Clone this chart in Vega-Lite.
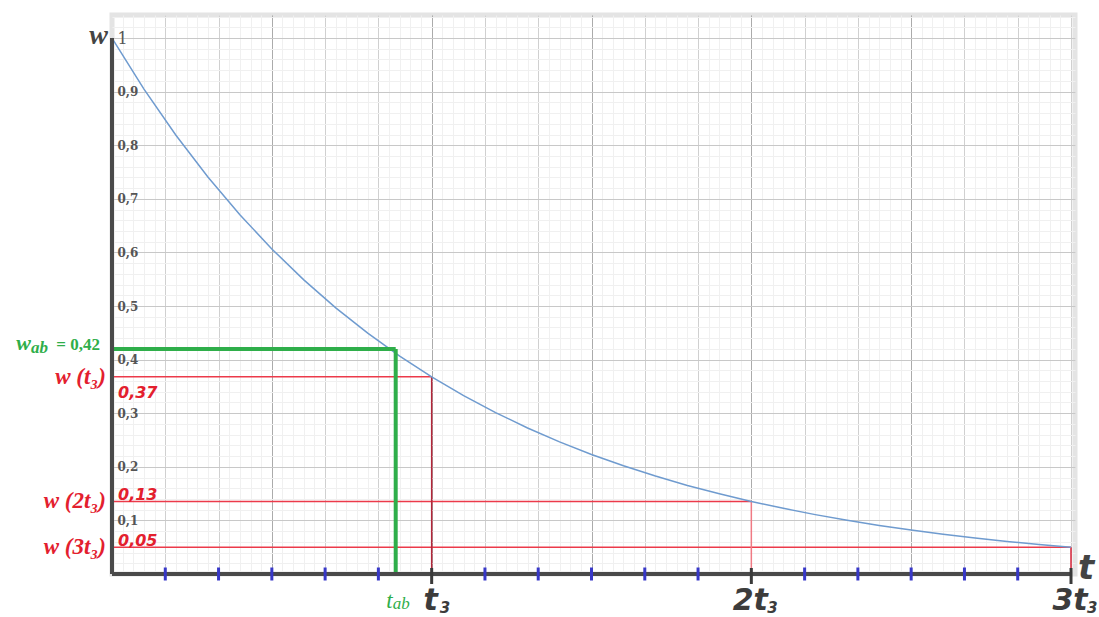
{
  "$schema": "https://vega.github.io/schema/vega-lite/v6.json",
  "width": 963,
  "height": 559,
  "autosize": "none",
  "padding": {"left": 112, "top": 15, "right": 24, "bottom": 43},
  "background": "white",
  "config": {
    "view": {"stroke": "#e4e4e4", "strokeWidth": 5},
    "axis": {"domain": false, "ticks": false, "labels": false}
  },
  "datasets": {
    "curve": [
      {"t": 0, "w": 1}, {"t": 0.1, "w": 0.9048}, {"t": 0.2, "w": 0.8187}, {"t": 0.3, "w": 0.7408},
      {"t": 0.4, "w": 0.6703}, {"t": 0.5, "w": 0.6065}, {"t": 0.6, "w": 0.5488}, {"t": 0.7, "w": 0.4966},
      {"t": 0.8, "w": 0.4493}, {"t": 0.9, "w": 0.4066}, {"t": 1.0, "w": 0.3679}, {"t": 1.1, "w": 0.3329},
      {"t": 1.2, "w": 0.3012}, {"t": 1.3, "w": 0.2725}, {"t": 1.4, "w": 0.2466}, {"t": 1.5, "w": 0.2231},
      {"t": 1.6, "w": 0.2019}, {"t": 1.7, "w": 0.1827}, {"t": 1.8, "w": 0.1653}, {"t": 1.9, "w": 0.1496},
      {"t": 2.0, "w": 0.1353}, {"t": 2.1, "w": 0.1225}, {"t": 2.2, "w": 0.1108}, {"t": 2.3, "w": 0.1003},
      {"t": 2.4, "w": 0.0907}, {"t": 2.5, "w": 0.0821}, {"t": 2.6, "w": 0.0743}, {"t": 2.7, "w": 0.0672},
      {"t": 2.8, "w": 0.0608}, {"t": 2.9, "w": 0.055}, {"t": 3.0, "w": 0.0498}
    ],
    "marks": [
      {"t": 1, "w": 0.3679, "k": "a", "lab": "w (t₃)", "num": "0,37", "tl": "t"},
      {"t": 2, "w": 0.1353, "k": "b", "lab": "w (2t₃)", "num": "0,13", "tl": "2t"},
      {"t": 3, "w": 0.0498, "k": "c", "lab": "w (3t₃)", "num": "0,05", "tl": "3t"}
    ],
    "ab": [{"t": 0.8875, "w": 0.42}],
    "ticks": [
      {"t": 0.1667}, {"t": 0.3333}, {"t": 0.5}, {"t": 0.6667}, {"t": 0.8333},
      {"t": 1.1667}, {"t": 1.3333}, {"t": 1.5}, {"t": 1.6667}, {"t": 1.8333},
      {"t": 2.1667}, {"t": 2.3333}, {"t": 2.5}, {"t": 2.6667}, {"t": 2.8333}
    ],
    "one": [{"n": 1}]
  },
  "resolve": {"axis": {"x": "independent", "y": "independent"}},
  "layer": [
    {
      "data": {"name": "marks"},
      "mark": {"type": "rule", "color": "#ec3a4a", "strokeWidth": 1.5},
      "encoding": {
        "x": {"field": "t", "type": "quantitative", "scale": {"domain": [0, 3.0125], "nice": false, "zero": false},
          "axis": {"orient": "bottom", "grid": true, "gridColor": "#f0f0f0", "gridWidth": 1, "title": null,
            "values": [0.0333,0.0667,0.1,0.1333,0.1667,0.2,0.2333,0.2667,0.3,0.3333,0.3667,0.4,0.4333,0.4667,0.5,0.5333,0.5667,0.6,0.6333,0.6667,0.7,0.7333,0.7667,0.8,0.8333,0.8667,0.9,0.9333,0.9667,1,
              1.0333,1.0667,1.1,1.1333,1.1667,1.2,1.2333,1.2667,1.3,1.3333,1.3667,1.4,1.4333,1.4667,1.5,1.5333,1.5667,1.6,1.6333,1.6667,1.7,1.7333,1.7667,1.8,1.8333,1.8667,1.9,1.9333,1.9667,2,
              2.0333,2.0667,2.1,2.1333,2.1667,2.2,2.2333,2.2667,2.3,2.3333,2.3667,2.4,2.4333,2.4667,2.5,2.5333,2.5667,2.6,2.6333,2.6667,2.7,2.7333,2.7667,2.8,2.8333,2.8667,2.9,2.9333,2.9667,3]}},
        "x2": {"datum": 0},
        "y": {"field": "w", "type": "quantitative", "scale": {"domain": [0, 1.043], "nice": false, "zero": false},
          "axis": {"orient": "left", "grid": true, "gridColor": "#f0f0f0", "gridWidth": 1, "title": null,
            "values": [0.02,0.04,0.06,0.08,0.1,0.12,0.14,0.16,0.18,0.2,0.22,0.24,0.26,0.28,0.3,0.32,0.34,0.36,0.38,0.4,0.42,0.44,0.46,0.48,0.5,0.52,0.54,0.56,0.58,0.6,0.62,0.64,0.66,0.68,0.7,0.72,0.74,0.76,0.78,0.8,0.82,0.84,0.86,0.88,0.9,0.92,0.94,0.96,0.98,1,1.02,1.04]}}
      }
    },
    {
      "data": {"name": "marks"},
      "mark": {"type": "rule", "strokeWidth": 1.5},
      "encoding": {
        "x": {"field": "t", "type": "quantitative",
          "axis": {"orient": "bottom", "grid": true, "gridColor": "#d0d0d0", "gridWidth": 1, "title": null,
            "values": [0.1667,0.3333,0.5,0.6667,0.8333,1,1.1667,1.3333,1.5,1.6667,1.8333,2,2.1667,2.3333,2.5,2.6667,2.8333,3]}},
        "y": {"field": "w", "type": "quantitative", "axis": null},
        "y2": {"datum": 0},
        "color": {"field": "k", "type": "nominal", "legend": null,
          "scale": {"domain": ["a", "b", "c"], "range": ["#b3263a", "#f07a84", "#d8243a"]}}
      }
    },
    {
      "data": {"name": "curve"},
      "mark": {"type": "line", "color": "#6f9bcf", "strokeWidth": 1.5},
      "encoding": {
        "x": {"field": "t", "type": "quantitative",
          "axis": {"orient": "bottom", "grid": true, "gridColor": "#ababab", "gridWidth": 1, "title": null, "values": [0.5, 1, 1.5, 2, 2.5]}},
        "y": {"field": "w", "type": "quantitative",
          "axis": {"orient": "left", "grid": true, "gridColor": "#c8c8c8", "gridWidth": 1, "title": null,
            "values": [0.1,0.2,0.3,0.4,0.5,0.6,0.7,0.8,0.9,1],
            "labels": true, "format": ".1~f", "labelExpr": "replace(datum.label, '.', ',')",
            "labelAlign": "left", "labelBaseline": "middle", "labelPadding": -5,
            "labelOverlap": false, "labelFlush": false, "labelBound": false,
            "labelFont": "DejaVu Serif",
            "labelFontSize": {"expr": "datum.value == 1 ? 16 : 12"},
            "labelFontWeight": {"expr": "datum.value == 1 ? 'normal' : 'bold'"},
            "labelColor": "#555555"}}
      }
    },
    {
      "data": {"name": "ab"},
      "mark": {"type": "rule", "color": "#2fae4a", "strokeWidth": 4},
      "encoding": {
        "x": {"field": "t", "type": "quantitative", "axis": null},
        "x2": {"datum": 0},
        "y": {"field": "w", "type": "quantitative", "axis": null}
      }
    },
    {
      "data": {"name": "ab"},
      "mark": {"type": "rule", "color": "#2fae4a", "strokeWidth": 4},
      "encoding": {
        "x": {"field": "t", "type": "quantitative", "axis": null},
        "y": {"field": "w", "type": "quantitative", "axis": null},
        "y2": {"datum": 0}
      }
    },
    {
      "data": {"name": "one"},
      "mark": {"type": "rule", "color": "#4a4a4a", "strokeWidth": 4},
      "encoding": {
        "x": {"datum": 0, "type": "quantitative", "axis": null},
        "x2": {"datum": 3},
        "y": {"datum": 0, "type": "quantitative", "axis": null}
      }
    },
    {
      "data": {"name": "one"},
      "mark": {"type": "rule", "color": "#4a4a4a", "strokeWidth": 4},
      "encoding": {
        "x": {"datum": 0, "type": "quantitative", "axis": null},
        "y": {"datum": 0, "type": "quantitative", "axis": null},
        "y2": {"datum": 1}
      }
    },
    {
      "data": {"name": "ticks"},
      "mark": {"type": "tick", "orient": "vertical", "color": "#3838c8", "size": 13, "thickness": 3, "opacity": 1},
      "encoding": {
        "x": {"field": "t", "type": "quantitative", "axis": null},
        "y": {"datum": 0, "type": "quantitative", "axis": null}
      }
    },
    {
      "data": {"name": "marks"},
      "mark": {"type": "tick", "orient": "vertical", "color": "#3a3a3a", "size": 16, "thickness": 3, "opacity": 1, "yOffset": 2},
      "encoding": {
        "x": {"field": "t", "type": "quantitative", "axis": null},
        "y": {"datum": 0, "type": "quantitative", "axis": null}
      }
    },
    {
      "data": {"name": "marks"},
      "mark": {"type": "text", "align": "right", "baseline": "middle", "dx": -6, "font": "Liberation Serif", "fontSize": 23, "fontWeight": "bold", "fontStyle": "italic", "color": "#e3202e"},
      "encoding": {
        "x": {"datum": 0, "type": "quantitative", "axis": null},
        "y": {"field": "w", "type": "quantitative", "axis": null},
        "text": {"field": "lab"}
      }
    },
    {
      "data": {"name": "marks"},
      "transform": [{"filter": "datum.k == 'a'"}],
      "mark": {"type": "text", "align": "left", "baseline": "middle", "dx": 6, "dy": 16, "font": "DejaVu Sans", "fontSize": 16, "fontWeight": "bold", "fontStyle": "italic", "color": "#e3202e"},
      "encoding": {
        "x": {"datum": 0, "type": "quantitative", "axis": null},
        "y": {"field": "w", "type": "quantitative", "axis": null},
        "text": {"field": "num"}
      }
    },
    {
      "data": {"name": "marks"},
      "transform": [{"filter": "datum.k != 'a'"}],
      "mark": {"type": "text", "align": "left", "baseline": "middle", "dx": 6, "dy": -6, "font": "DejaVu Sans", "fontSize": 16, "fontWeight": "bold", "fontStyle": "italic", "color": "#e3202e"},
      "encoding": {
        "x": {"datum": 0, "type": "quantitative", "axis": null},
        "y": {"field": "w", "type": "quantitative", "axis": null},
        "text": {"field": "num"}
      }
    },
    {
      "data": {"name": "marks"},
      "mark": {"type": "text", "align": "center", "baseline": "alphabetic", "dx": -1, "dy": 36, "font": "DejaVu Sans", "fontSize": 30, "fontWeight": "bold", "fontStyle": "italic", "color": "#3c3c3c"},
      "encoding": {
        "x": {"field": "t", "type": "quantitative", "axis": null},
        "y": {"datum": 0, "type": "quantitative", "axis": null},
        "text": {"field": "tl"}
      }
    },
    {
      "data": {"name": "marks"},
      "transform": [{"filter": "datum.k == 'a'"}],
      "mark": {"type": "text", "align": "left", "baseline": "alphabetic", "dx": 8, "dy": 39, "font": "DejaVu Sans", "fontSize": 15, "fontWeight": "bold", "fontStyle": "italic", "color": "#3c3c3c", "text": "3"},
      "encoding": {
        "x": {"field": "t", "type": "quantitative", "axis": null},
        "y": {"datum": 0, "type": "quantitative", "axis": null}
      }
    },
    {
      "data": {"name": "marks"},
      "transform": [{"filter": "datum.k != 'a'"}],
      "mark": {"type": "text", "align": "left", "baseline": "alphabetic", "dx": 16, "dy": 39, "font": "DejaVu Sans", "fontSize": 15, "fontWeight": "bold", "fontStyle": "italic", "color": "#3c3c3c", "text": "3"},
      "encoding": {
        "x": {"field": "t", "type": "quantitative", "axis": null},
        "y": {"datum": 0, "type": "quantitative", "axis": null}
      }
    },
    {
      "data": {"name": "ab"},
      "mark": {"type": "text", "align": "right", "baseline": "alphabetic", "dx": -3, "dy": 34, "font": "Liberation Serif", "fontSize": 23, "fontStyle": "italic", "color": "#2fae4a", "text": "t"},
      "encoding": {
        "x": {"field": "t", "type": "quantitative", "axis": null},
        "y": {"datum": 0, "type": "quantitative", "axis": null}
      }
    },
    {
      "data": {"name": "ab"},
      "mark": {"type": "text", "align": "left", "baseline": "alphabetic", "dx": -3, "dy": 35, "font": "Liberation Serif", "fontSize": 17, "fontStyle": "italic", "color": "#2fae4a", "text": "ab"},
      "encoding": {
        "x": {"field": "t", "type": "quantitative", "axis": null},
        "y": {"datum": 0, "type": "quantitative", "axis": null}
      }
    },
    {
      "data": {"name": "ab"},
      "mark": {"type": "text", "align": "right", "baseline": "alphabetic", "dx": -81, "dy": 1, "font": "Liberation Serif", "fontSize": 22, "fontWeight": "bold", "fontStyle": "italic", "color": "#2fae4a", "text": "w"},
      "encoding": {
        "x": {"datum": 0, "type": "quantitative", "axis": null},
        "y": {"field": "w", "type": "quantitative", "axis": null}
      }
    },
    {
      "data": {"name": "ab"},
      "mark": {"type": "text", "align": "right", "baseline": "alphabetic", "dx": -64, "dy": 4, "font": "Liberation Serif", "fontSize": 17, "fontWeight": "bold", "fontStyle": "italic", "color": "#2fae4a", "text": "ab"},
      "encoding": {
        "x": {"datum": 0, "type": "quantitative", "axis": null},
        "y": {"field": "w", "type": "quantitative", "axis": null}
      }
    },
    {
      "data": {"name": "ab"},
      "mark": {"type": "text", "align": "right", "baseline": "alphabetic", "dx": -12, "dy": 1, "font": "Liberation Serif", "fontSize": 17, "fontWeight": "bold", "color": "#2fae4a", "text": "= 0,42"},
      "encoding": {
        "x": {"datum": 0, "type": "quantitative", "axis": null},
        "y": {"field": "w", "type": "quantitative", "axis": null}
      }
    },
    {
      "data": {"name": "one"},
      "mark": {"type": "text", "align": "right", "baseline": "alphabetic", "dx": -4, "dy": 6, "font": "Liberation Serif", "fontSize": 28, "fontWeight": "bold", "fontStyle": "italic", "color": "#444444", "text": "w"},
      "encoding": {
        "x": {"datum": 0, "type": "quantitative", "axis": null},
        "y": {"datum": 1, "type": "quantitative", "axis": null}
      }
    },
    {
      "data": {"name": "one"},
      "mark": {"type": "text", "align": "left", "baseline": "alphabetic", "dx": 7, "dy": 5, "font": "DejaVu Sans", "fontSize": 34, "fontWeight": "bold", "fontStyle": "italic", "color": "#444444", "text": "t"},
      "encoding": {
        "x": {"datum": 3, "type": "quantitative", "axis": null},
        "y": {"datum": 0, "type": "quantitative", "axis": null}
      }
    }
  ]
}
